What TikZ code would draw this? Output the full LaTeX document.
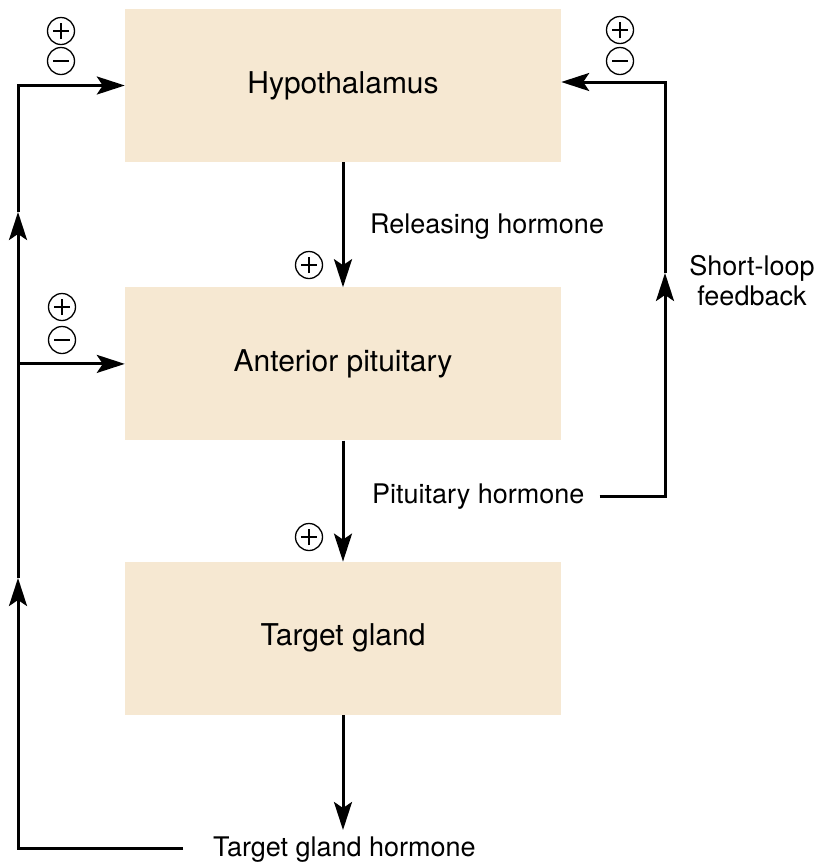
\documentclass[tikz,border=0pt]{standalone}
\usepackage{fontspec}
\setmainfont{TeX Gyre Heros}
\usetikzlibrary{arrows.meta,positioning}

\begin{document}
\begin{tikzpicture}[
  x=1pt, y=-1pt,
  box/.style={
    fill=boxfill,
    align=center,
    minimum width=436pt,
    minimum height=153pt,
    font=\fontsize{30}{36}\selectfont
  },
  lbl/.style={inner sep=0pt, font=\fontsize{27}{30}\selectfont},
  line/.style={-{Stealth[length=28pt,width=18pt,inset=6pt]}, line width=3pt},
  sgn/.style={circle, draw, line width=1.3pt, minimum size=27pt, inner sep=0pt},
  plussign/.style={sgn, path picture={
    \draw[line width=1.3pt]
      ([xshift=-8pt]path picture bounding box.center) -- ([xshift=8pt]path picture bounding box.center)
      ([yshift=-8pt]path picture bounding box.center) -- ([yshift=8pt]path picture bounding box.center);}},
  minussign/.style={sgn, path picture={
    \draw[line width=1.3pt]
      ([xshift=-8pt]path picture bounding box.center) -- ([xshift=8pt]path picture bounding box.center);}}
]
\definecolor{boxfill}{RGB}{246,232,210}
\useasboundingbox (0,0) rectangle (817,863);

% boxes
\node[box] (hypo) at (343,85.5) {Hypothalamus};
\node[box,below=125pt of hypo] (antpit) {Anterior pituitary};
\node[box,below=121pt of antpit] (target) {Target gland};

% labels
\node[lbl,anchor=base west] (relh) at (370,233) {Releasing hormone};
\node[lbl,anchor=base west] (pith) at (372,503) {Pituitary hormone};
\node[lbl,anchor=base west] (tgh) at (213,856) {Target gland hormone};
\node[lbl,align=center,anchor=base] (slf) at (752,305) {Short-loop\\feedback};

% signs
\node[plussign] (s1p) at (61,31) {};
\node[minussign] (s1m) at (61,61) {};
\node[plussign] (s2p) at (620,30) {};
\node[minussign] (s2m) at (620,61) {};
\node[plussign] (s3p) at (62,307) {};
\node[minussign] (s3m) at (62,340) {};
\node[plussign] (s4p) at (309,265) {};
\node[plussign] (s5p) at (309,537) {};

% loop corners
\coordinate (m1) at (18,578);
\coordinate (m2) at (18,212);
\coordinate (m3) at (665,273);
\coordinate (out) at (343,830);

% main axis
\draw[line] (hypo) -- (antpit);
\draw[line] (antpit) -- (target);
\draw[line] (target) -- (out);

% long loop
\draw[line] ([shift={(-30pt,1pt)}]tgh.west) -| (m1);
\draw[line] (m1) -- (m2);
\draw[line] (m2) |- (hypo.west);
\draw[line] (antpit.west -| m2) -- (antpit.west);

% short loop
\draw[line] ([xshift=15pt]pith.east) -| (m3);
\draw[line] (m3) |- ([yshift=3.5pt]hypo.east);
\end{tikzpicture}
\end{document}
